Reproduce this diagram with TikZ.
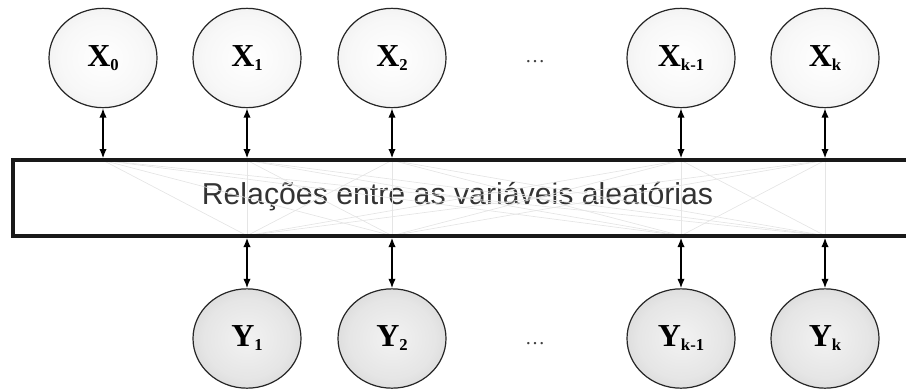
\documentclass[tikz,border=0pt]{standalone}
\usepackage{fontspec}
\setmainfont{Liberation Serif}
\setsansfont{Liberation Sans}
\usetikzlibrary{arrows.meta,shapes.geometric}

\pgfdeclareradialshading{xball}{\pgfpoint{0bp}{0bp}}{color(0bp)=(white); color(20bp)=(black!3); color(50bp)=(black!13); color(100bp)=(black!13)}
\pgfdeclareradialshading{yball}{\pgfpoint{0bp}{0bp}}{color(0bp)=(black!5); color(20bp)=(black!10); color(50bp)=(black!27); color(100bp)=(black!27)}

\newcommand{\varlbl}[2]{{\fontsize{24}{24}\selectfont\bfseries #1}{\fontsize{12.5}{12.5}\selectfont\bfseries\raisebox{-3pt}{#2}}}

\begin{document}
\begin{tikzpicture}[x=0.75pt,y=-0.75pt,
    xvar/.style={ellipse,draw=black!85,line width=0.9pt,minimum width=81pt,minimum height=74.5pt,inner sep=0pt,shading=xball},
    yvar/.style={xvar,shading=yball},
    relbox/.style={minimum width=720pt,minimum height=56.5pt,inner sep=0pt,outer sep=0pt},
    boxline/.style={draw=black!90,line width=3pt},
    link/.style={{Latex[length=7pt,width=5.5pt]}-{Latex[length=7pt,width=5.5pt]},line width=1.1pt},
    ghost/.style={black!10,line width=0.5pt},
    dots/.style={text=black!75,font=\fontsize{15}{15}\selectfont}]
      \useasboundingbox (0,0) rectangle (906,390);
      \node[relbox] (rel) at (493,198) {};
      \node[text=black!80,font=\sffamily\fontsize{22.7}{24}\selectfont] (reltext) at (457.5,197) {Relações entre as variáveis aleatórias};
      \node[xvar] (x0) at (103,58) {\varlbl{X}{0}};
      \node[xvar] (x1) at (247,58) {\varlbl{X}{1}};
      \node[xvar] (x2) at (392,58) {\varlbl{X}{2}};
      \node[xvar] (xk1) at (681,58) {\varlbl{X}{k-1}};
      \node[xvar] (xk) at (825,58) {\varlbl{X}{k}};
      \node[yvar] (y1) at (247,338.5) {\varlbl{Y}{1}};
      \node[yvar] (y2) at (392,338.5) {\varlbl{Y}{2}};
      \node[yvar] (yk1) at (681,338.5) {\varlbl{Y}{k-1}};
      \node[yvar] (yk) at (825,338.5) {\varlbl{Y}{k}};
      \node[dots] (dtop) at (535,62) {\dots};
      \node[dots] (dbot) at (535,344) {\dots};
      % faint links inside the box
      \foreach \t in {x0,x1,x2,xk1,xk}
        \foreach \b in {y1,y2,yk1,yk}
          \draw[ghost] (\t.south |- rel.north) -- (\b.north |- rel.south);
      \draw[boxline] (rel.north east) -- (rel.north west) -- (rel.south west) -- (rel.south east);
      \foreach \v in {x0,x1,x2,xk1,xk}
        \draw[link] (\v.south) -- ([yshift=1.5pt]\v.south |- rel.north);
      \foreach \v in {y1,y2,yk1,yk}
        \draw[link] ([yshift=-1.5pt]\v.north |- rel.south) -- (\v.north);
    \end{tikzpicture}
\end{document}
